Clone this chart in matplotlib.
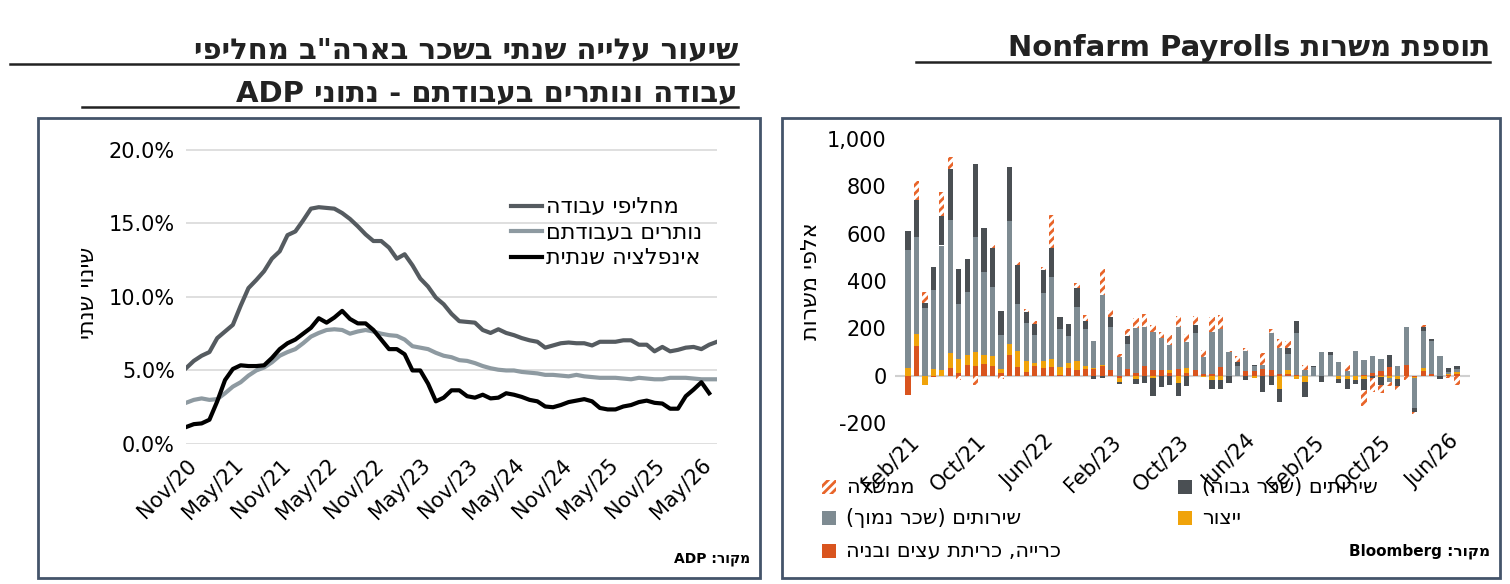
import re
import numpy as np
import matplotlib
matplotlib.use("Agg")
import matplotlib.pyplot as plt
from matplotlib.patches import Rectangle
from matplotlib.lines import Line2D

plt.rcParams['font.family'] = ['DejaVu Sans']
plt.rcParams['hatch.linewidth'] = 2

def rtl(s):
    r = s[::-1]
    r = r.translate(str.maketrans("()", ")("))
    return re.sub(r'[A-Za-z0-9][A-Za-z0-9 ]*[A-Za-z0-9]|[A-Za-z0-9]', lambda m: m.group(0)[::-1], r)

# ---------- left chart data (monthly, Nov/20 .. Jul/26) ----------
line_ticks = ["Nov/20", "May/21", "Nov/21", "May/22", "Nov/22", "May/23", "Nov/23",
              "May/24", "Nov/24", "May/25", "Nov/25", "May/26"]
job_changers = [5.15, 5.65, 6.0, 6.25, 7.2, 7.65, 8.1, 9.4, 10.6, 11.15, 11.75, 12.6, 13.1, 14.2, 14.45,
                15.2, 16.0, 16.1, 16.05, 16.0, 15.7, 15.3, 14.8, 14.25, 13.8, 13.8, 13.35, 12.6, 12.9, 12.15,
                11.25, 10.7, 9.95, 9.5, 8.85, 8.35, 8.3, 8.25, 7.75, 7.55, 7.8, 7.55, 7.4, 7.2, 7.05, 6.95,
                6.55, 6.7, 6.85, 6.9, 6.85, 6.85, 6.7, 6.95, 6.95, 6.95, 7.05, 7.05, 6.75, 6.75, 6.3, 6.6,
                6.3, 6.4, 6.55, 6.6, 6.45, 6.75, 6.95]
job_stayers = [2.8, 3.0, 3.1, 3.0, 3.05, 3.45, 3.9, 4.2, 4.65, 5.0, 5.2, 5.55, 6.0, 6.25, 6.45, 6.85, 7.3,
               7.55, 7.75, 7.8, 7.75, 7.5, 7.65, 7.75, 7.65, 7.5, 7.4, 7.35, 7.1, 6.65, 6.55, 6.45, 6.2,
               6.0, 5.9, 5.7, 5.65, 5.5, 5.3, 5.15, 5.05, 5.0, 5.0, 4.9, 4.85, 4.8, 4.7, 4.7, 4.65, 4.6,
               4.7, 4.6, 4.55, 4.5, 4.5, 4.5, 4.45, 4.4, 4.5, 4.45, 4.4, 4.4, 4.5, 4.5, 4.5, 4.45, 4.4,
               4.4, 4.4]
inflation = [1.15, 1.35, 1.4, 1.65, 2.9, 4.35, 5.1, 5.35, 5.3, 5.3, 5.35, 5.85, 6.45, 6.85, 7.1, 7.5, 7.9,
             8.55, 8.25, 8.6, 9.05, 8.5, 8.2, 8.2, 7.75, 7.1, 6.45, 6.45, 6.1, 5.0, 5.0, 4.1, 2.9, 3.15,
             3.65, 3.65, 3.25, 3.15, 3.35, 3.1, 3.15, 3.45, 3.35, 3.2, 3.0, 2.9, 2.55, 2.5, 2.65, 2.85,
             2.95, 3.05, 2.9, 2.45, 2.35, 2.35, 2.55, 2.65, 2.85, 2.95, 2.8, 2.75, 2.4, 2.4, 3.25,
             3.7, 4.2, 3.45, np.nan]

# ---------- right chart data (monthly, Feb/21 .. Jul/26), thousands ----------
bar_ticks = ["Feb/21", "Oct/21", "Jun/22", "Feb/23", "Oct/23", "Jun/24", "Feb/25", "Oct/25", "Jun/26"]
mining = [-80, 126, 0, -5, 0, 32, 11, 46, 42, 50, 42, 11, 88, 36, 14, 39, 32, 36, 4, 32, 22, 28, 28, 39,
          25, -10, 28, 11, 42, 22, 22, 11, 28, 10, 22, 8, 8, 36, 0, 0, 18, 18, 28, 22, 8, 8, 4, 0, 0, 0,
          0, 0, 0, 0, 3, 11, 18, 36, 0, 46, -5, 18, 8, 0, 4, 5]
manufacturing = [32, 50, -38, 30, 25, 63, 59, 42, 60, 38, 42, 17, 46, 70, 46, 14, 28, 34, 32, 21, 38, 11,
                 4, 7, 0, -15, 0, -15, 0, -10, 0, 11, -30, 22, 0, -5, -20, -20, 0, 0, 0, -10, 0, 0, -55,
                 14, -15, -25, 0, 0, 0, -15, -15, -20, -15, 0, -5, -10, -15, 0, -5, 14, 0, 0, 5, 12]
services_low = [500, 411, 287, 330, 525, 564, 232, 264, 485, 348, 291, 144, 521, 196, 161, 119, 290, 347,
                161, 115, 231, 157, 116, 294, 182, 78, 106, 189, 162, 164, 136, 108, 176, 112, 157, 70,
                178, 160, 100, 39, 88, 21, 18, 160, 108, 70, 178, 22, 38, 98, 88, 56, 18, 106, 64, 73, 52,
                -15, 42, 161, -125, 158, 140, 84, 5, 13]
services_high = [80, 154, 20, 98, 125, 215, 147, 143, 308, 186, 163, 101, 226, 167, 49, 46, 95, 123, 52,
                 50, 80, 36, -15, -10, 42, -10, 34, -20, -30, -75, -50, -40, -55, -45, 35, 0, -35, -35,
                 -30, 17, -20, 7, -70, -40, -55, 24, 50, -65, 4, -25, 14, -15, -40, -15, -45, -8, -35, 52,
                 -30, 0, -20, 14, 6, -15, 20, 12]
government = [0, 80, 45, 0, 100, 50, -20, 0, -40, 0, 15, -15, 0, 10, 10, 15, 15, 140, 0, 0, 20, 25, 0,
              110, 30, 15, 30, 45, 55, 30, 25, 40, 50, 30, 40, 30, 60, 60, 5, 25, 10, 0, 50, 15, 40, 30,
              0, 25, 0, 0, 0, 0, 25, 0, -70, -60, -35, -20, -15, -20, -5, 10, 0, 0, -10, -40]

W, H = 1510, 584
fig = plt.figure(figsize=(W / 100, H / 100), dpi=100)

def fx(px): return px / W
def fy(py): return 1 - py / H

frame_col = "#44546A"
for x0, x1 in [(38, 760), (782, 1500)]:
    fig.add_artist(Rectangle((fx(x0), fy(578)), fx(x1 - x0), (578 - 118) / H, transform=fig.transFigure,
                             fill=False, edgecolor=frame_col, linewidth=2))

# titles
tkw = dict(fontsize=21, fontweight='bold', ha='right', va='baseline', color='#222222')
fig.text(fx(738), fy(58), rtl('שיעור עלייה שנתי בשכר בארה"ב מחליפי'), **tkw)
fig.text(fx(738), fy(101), rtl('עבודה ונותרים בעבודתם - נתוני ADP'), **tkw)
fig.text(fx(1490), fy(56), rtl('תוספת משרות Nonfarm Payrolls'), **tkw)
for (a, b, y) in [(10, 738, 64), (82, 738, 107), (916, 1490, 62)]:
    fig.add_artist(Line2D([fx(a), fx(b)], [fy(y), fy(y)], transform=fig.transFigure, color='#222222', lw=1.8))

# ---------- left chart ----------
axL = fig.add_axes([fx(186), fy(444), fx(717 - 186), (444 - 141) / H])
n = len(job_changers)
x = np.arange(n)
axL.plot(x, job_changers, color="#555B60", lw=3, label=rtl("מחליפי עבודה"))
axL.plot(x, job_stayers, color="#8E9AA1", lw=3, label=rtl("נותרים בעבודתם"))
axL.plot(x, inflation, color="#000000", lw=3, label=rtl("אינפלציה שנתית"))
axL.set_xlim(0, n - 1)
axL.set_ylim(0, 20.6)
axL.set_yticks([0, 5, 10, 15, 20])
axL.set_yticklabels([f"{v:.1f}%" for v in [0, 5, 10, 15, 20]], fontsize=15)
axL.yaxis.grid(True, color="#D9D9D9", lw=1.2)
axL.set_axisbelow(True)
axL.set_xticks(np.arange(0, n, 6)[:len(line_ticks)])
axL.set_xticklabels(line_ticks, rotation=45, ha='right', rotation_mode='anchor', fontsize=15)
axL.tick_params(length=0, pad=8)
for s in axL.spines.values():
    s.set_visible(False)
axL.set_ylabel(rtl("שינוי שנתי"), fontsize=16, labelpad=8)
axL.legend(loc='upper right', bbox_to_anchor=(1.01, 0.88), frameon=False, fontsize=16,
           handlelength=1.4, handletextpad=0.2, labelspacing=0.25, markerfirst=True)
fig.text(fx(750), fy(563), rtl("מקור: ADP"), fontsize=10, fontweight='bold', ha='right')

# ---------- right chart ----------
axR = fig.add_axes([fx(895), fy(423), fx(1470 - 895), (423 - 139) / H])
nb = len(mining)
xb = np.arange(nb)
series = [(mining, "#D9541E", None), (manufacturing, "#F0A30A", None),
          (services_low, "#7E8B92", None), (services_high, "#4A4F53", None),
          (government, "white", "////")]
pos = np.zeros(nb)
neg = np.zeros(nb)
for vals, col, hatch in series:
    v = np.array(vals, dtype=float)
    bottom = np.where(v >= 0, pos, neg)
    if hatch:
        axR.bar(xb, v, 0.62, bottom=bottom, color='white', edgecolor="#E8652A", hatch=hatch, lw=0)
    else:
        axR.bar(xb, v, 0.62, bottom=bottom, color=col, lw=0)
    pos = pos + np.where(v > 0, v, 0)
    neg = neg + np.where(v < 0, v, 0)
axR.axhline(0, color="#D0D0D0", lw=1.5, zorder=0)
axR.set_xlim(-1.55, nb - 1 + 1.55)
axR.set_ylim(-200, 1000)
axR.set_yticks(range(-200, 1001, 200))
axR.set_yticklabels([f"{v:,}" for v in range(-200, 1001, 200)], fontsize=15)
axR.set_xticks(np.arange(0, nb, 8)[:len(bar_ticks)])
axR.set_xticklabels(bar_ticks, rotation=45, ha='right', rotation_mode='anchor', fontsize=15)
axR.tick_params(length=0, pad=6)
for s in axR.spines.values():
    s.set_visible(False)
axR.set_ylabel(rtl("אלפי משרות"), fontsize=16, labelpad=4)

# legend (manual)
legend_items = [
    (822, 487, "white", "////", "ממשלה"),
    (1178, 487, "#4A4F53", None, "שירותים (שכר גבוה)"),
    (822, 518, "#7E8B92", None, "שירותים (שכר נמוך)"),
    (1178, 518, "#F0A30A", None, "ייצור"),
    (822, 551, "#D9541E", None, "כרייה, כריתת עצים ובניה"),
]
for lx, ly, col, hatch, lab in legend_items:
    if hatch:
        r = Rectangle((fx(lx), fy(ly + 7)), fx(14), 14 / H, transform=fig.transFigure,
                      facecolor='white', edgecolor="#E8652A", hatch=hatch, lw=0)
    else:
        r = Rectangle((fx(lx), fy(ly + 7)), fx(14), 14 / H, transform=fig.transFigure,
                      facecolor=col, lw=0)
    fig.add_artist(r)
    fig.text(fx(lx + 24), fy(ly), rtl(lab), fontsize=15, va='center', ha='left')
fig.text(fx(1490), fy(551), rtl("מקור: Bloomberg"), fontsize=11, fontweight='bold', ha='right', va='center')

fig.savefig("out.png", dpi=100)
